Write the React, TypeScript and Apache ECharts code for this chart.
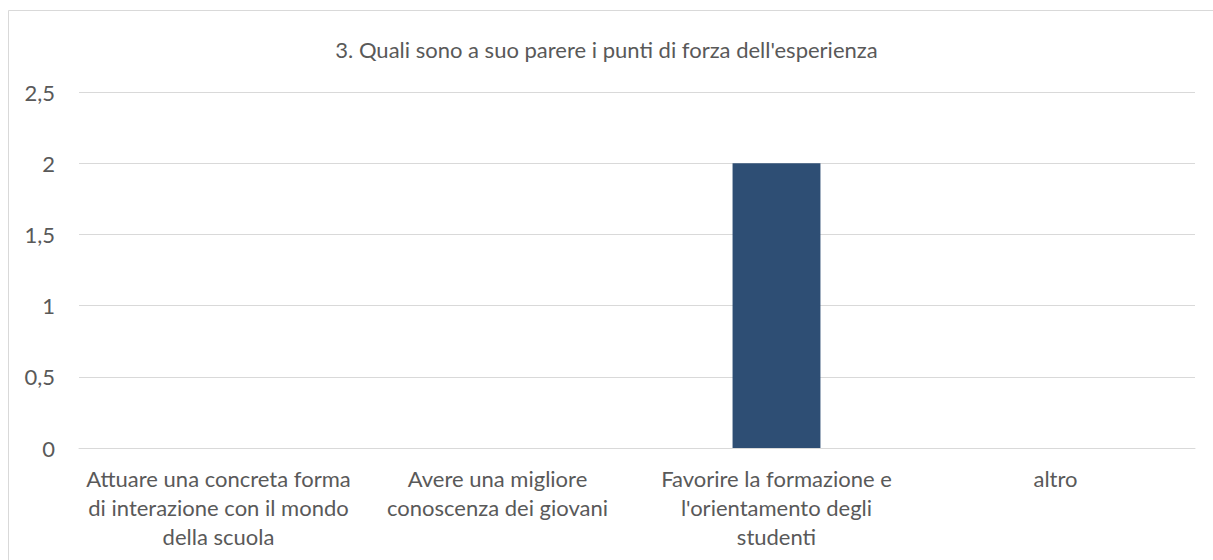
import React, { useEffect, useRef } from "react";
import * as echarts from "echarts";

const title = "3. Quali sono a suo parere i punti di forza dell'esperienza";
const categories = [
  "Attuare una concreta forma\ndi interazione con il mondo\ndella scuola",
  "Avere una migliore\nconoscenza dei giovani",
  "Favorire la formazione e\nl'orientamento degli\nstudenti",
  "altro",
];
const values = [0, 0, 2, 0];

export default function App() {
  const ref = useRef<HTMLDivElement>(null);
  useEffect(() => {
    const chart = echarts.init(ref.current!, null, { renderer: "svg" });
    const font = "Lato, 'Open Sans', sans-serif";
    chart.setOption({
      animation: false,
      backgroundColor: "#ffffff",
      graphic: [
        {
          type: "rect",
          shape: { x: 8.5, y: 10.5, width: 1400, height: 800 },
          style: { fill: "none", stroke: "#d9d9d9", lineWidth: 1 },
          silent: true,
        },
      ],
      title: {
        text: title,
        left: "center",
        top: 33,
        textStyle: { fontFamily: font, fontSize: 22, fontWeight: "normal", color: "#595959" },
      },
      grid: { left: 79, right: 18, top: 92, bottom: 112 },
      xAxis: {
        type: "category",
        data: categories,
        axisLine: { lineStyle: { color: "#d9d9d9" } },
        axisTick: { show: false },
        axisLabel: {
          color: "#595959",
          fontFamily: font,
          fontSize: 22,
          lineHeight: 29,
          margin: 16,
          interval: 0,
        },
      },
      yAxis: {
        type: "value",
        min: 0,
        max: 2.5,
        interval: 0.5,
        axisLine: { show: false },
        axisTick: { show: false },
        splitLine: { lineStyle: { color: "#d9d9d9" } },
        axisLabel: {
          color: "#595959",
          fontFamily: font,
          fontSize: 22,
          margin: 24,
          formatter: (v: number) => String(v).replace(".", ","),
        },
      },
      series: [
        {
          type: "bar",
          data: values,
          barWidth: "31.5%",
          itemStyle: { color: "#2e4e74" },
        },
      ],
    });
    return () => chart.dispose();
  }, []);
  return (
    <div
      ref={ref}
      style={{ position: "fixed", left: 0, top: 0, width: 1213, height: 560 }}
    />
  );
}
